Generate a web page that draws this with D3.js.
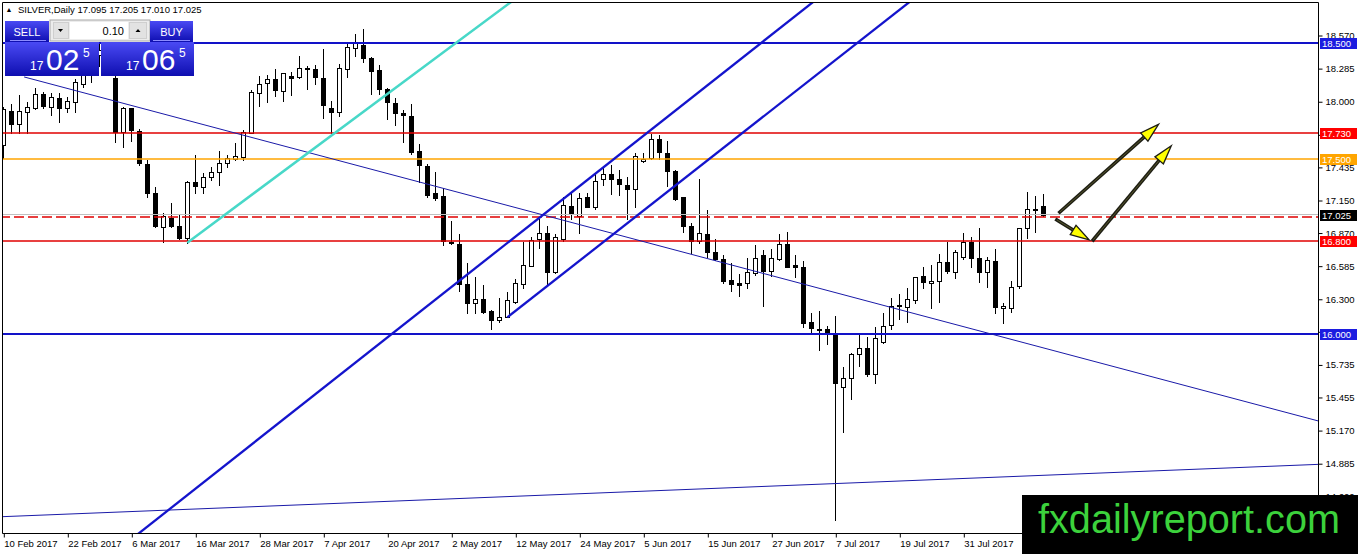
<!DOCTYPE html>
<html>
<head>
<meta charset="utf-8">
<title>SILVER Daily</title>
<script src="https://d3js.org/d3.v7.min.js"></script>
<style>
  body { margin: 0; background: #fff; }
  svg text { font-family: "Liberation Sans", Arial, sans-serif; }
</style>
</head>
<body>
<div id="vis"></div>
<script>
// daily bars, 10 Feb 2017 onwards (bar index = trading day)
var opens = [17.62,17.92,17.80,17.905,17.94,18.06,17.953,18.025,17.939,17.996,
  18.15,18.25,18.40,18.44,18.20,17.733,17.939,17.744,17.457,17.208,
  16.92,16.993,16.929,16.826,17.302,17.265,17.346,17.394,17.471,17.50,
  17.523,17.729,18.068,18.154,18.191,18.088,18.217,18.211,18.275,18.277,
  18.197,17.939,17.905,18.275,18.456,18.484,18.375,18.269,18.103,17.982,
  17.902,17.873,17.572,17.443,17.208,17.184,16.791,16.771,16.427,16.266,
  16.295,16.195,16.117,16.146,16.275,16.425,16.585,16.814,16.863,16.533,
  16.812,17.098,17.015,17.179,17.093,17.328,17.374,17.328,17.277,17.242,
  17.483,17.509,17.672,17.552,17.40,17.173,16.926,16.80,16.857,16.705,
  16.639,16.462,16.433,16.433,16.524,16.677,16.542,16.639,16.771,16.591,
  16.571,16.098,16.04,16.038,15.997,15.538,15.616,15.825,15.874,15.652,
  15.925,16.073,16.245,16.232,16.289,16.496,16.433,16.456,16.614,16.533,
  16.662,16.791,16.648,16.533,16.628,16.218,16.223,16.41,16.906,17.068,
  17.095];
var highs = [17.95,17.98,18.05,17.99,18.11,18.08,18.068,18.074,18.039,18.191,
  18.32,18.48,18.50,18.47,18.23,17.95,17.945,17.758,17.494,17.265,
  17.036,17.122,17.026,17.316,17.537,17.38,17.431,17.574,17.537,17.643,
  17.752,18.097,18.217,18.226,18.275,18.245,18.254,18.389,18.30,18.312,
  18.45,18.002,18.317,18.499,18.579,18.622,18.38,18.312,18.111,18.025,
  17.925,17.974,17.632,17.457,17.394,17.25,16.97,16.857,16.605,16.485,
  16.419,16.20,16.304,16.356,16.467,16.791,16.829,16.984,16.929,16.855,
  17.173,17.222,17.213,17.213,17.371,17.423,17.451,17.408,17.351,17.557,
  17.552,17.718,17.71,17.66,17.408,17.18,16.95,17.33,17.064,16.812,
  16.677,16.61,16.513,16.648,16.763,16.72,16.726,16.857,16.872,16.677,
  16.625,16.175,16.195,16.066,16.152,15.716,15.836,15.997,15.974,16.06,
  16.175,16.307,16.34,16.39,16.49,16.571,16.591,16.683,16.791,16.72,
  16.863,16.829,16.907,16.662,16.728,16.26,16.453,16.912,17.216,17.187,
  17.205];
var lows = [17.51,17.73,17.73,17.73,17.93,17.944,17.882,17.819,17.905,17.905,
  18.12,18.165,18.30,18.24,17.652,17.604,17.66,17.45,17.18,16.92,
  16.791,16.92,16.815,16.783,17.208,17.208,17.322,17.279,17.437,17.494,
  17.494,17.729,17.962,17.996,18.045,18.002,18.054,18.203,18.103,18.146,
  17.853,17.729,17.873,18.211,18.392,18.34,18.06,18.06,17.847,17.795,
  17.647,17.55,17.308,17.18,17.15,16.763,16.77,16.37,16.175,16.18,
  16.18,16.037,16.103,16.14,16.266,16.39,16.58,16.74,16.42,16.52,
  16.80,16.987,16.863,17.087,17.07,17.279,17.202,17.193,16.989,17.092,
  17.48,17.503,17.50,17.27,17.15,16.877,16.697,16.783,16.662,16.634,
  16.433,16.37,16.326,16.395,16.505,16.238,16.496,16.634,16.57,16.49,
  16.06,16.008,15.859,15.911,14.396,15.156,15.435,15.72,15.635,15.573,
  15.917,16.043,16.126,16.098,16.26,16.39,16.218,16.275,16.519,16.476,
  16.642,16.576,16.447,16.404,16.175,16.089,16.189,16.395,16.826,16.872,
  17.01];
var closes = [17.93,17.80,17.92,17.95,18.06,17.96,18.034,17.939,18.002,18.163,
  18.25,18.40,18.44,18.30,17.738,17.944,17.752,17.466,17.208,16.929,
  17.015,16.929,16.826,17.307,17.273,17.35,17.394,17.471,17.509,17.531,
  17.738,18.077,18.146,18.191,18.097,18.24,18.203,18.283,18.289,18.206,
  17.967,17.91,18.283,18.464,18.499,18.369,18.263,18.103,17.991,17.902,
  17.882,17.56,17.451,17.193,17.17,16.80,16.777,16.425,16.266,16.30,
  16.189,16.117,16.145,16.289,16.438,16.59,16.806,16.869,16.533,16.829,
  17.107,17.027,17.165,17.093,17.314,17.374,17.334,17.285,17.248,17.529,
  17.505,17.672,17.56,17.402,17.159,16.926,16.80,16.863,16.705,16.642,
  16.455,16.425,16.42,16.533,16.648,16.542,16.648,16.771,16.576,16.57,
  16.094,16.046,16.035,16.003,15.578,15.616,15.825,15.874,15.652,15.96,
  16.068,16.239,16.235,16.298,16.485,16.442,16.453,16.614,16.542,16.705,
  16.791,16.648,16.528,16.634,16.232,16.238,16.404,16.906,17.07,17.076,
  17.025];

var dateLabels = ["10 Feb 2017","22 Feb 2017","6 Mar 2017","16 Mar 2017","28 Mar 2017",
  "7 Apr 2017","20 Apr 2017","2 May 2017","12 May 2017","24 May 2017","5 Jun 2017",
  "15 Jun 2017","27 Jun 2017","7 Jul 2017","19 Jul 2017","31 Jul 2017"];
var dateBars = [0,8,16,24,32,40,48,56,64,72,80,88,96,104,112,120];

var priceTicks = [18.570,18.285,18.000,17.715,17.435,17.150,16.870,16.585,16.300,
  16.020,15.735,15.455,15.170,14.885,14.600];

// horizontal levels drawn on the chart
var levelPrices = [18.500, 17.730, 17.500, 17.000, 16.800, 16.000];
var levelKinds  = ["blue", "red", "orange", "dash", "red", "blue"];

// trend lines: [bar, price] anchors
var fallLine   = [[2.6, 18.209], [164.4, 15.248]];
var riseLine   = [[-0.05, 14.425], [164.4, 14.875]];
var channelLow = [[16.99, 14.284], [101.06, 18.845]];
var channelUp  = [[63, 16.14], [88.34, 17.508]];
var cyanLine   = [[23, 16.783], [59.6, 18.656]];

// arrows [from, to] as [bar, price]
var arrows = [
  [[131.9, 17.036], [144.4, 17.801]],
  [[131.5, 16.987], [135.75, 16.806]],
  [[136.1, 16.795], [146.0, 17.617]]
];

var symbol = "SILVER,Daily";
var bid = 17.025, ask = 17.065, lot = "0.10";

var width = 1358, height = 554;
var svg = d3.select("#vis").append("svg")
  .attr("width", width).attr("height", height);

var x = d3.scaleLinear().domain([0, 164.4]).range([3.3, 1318.5]);
var y = d3.scaleLinear().domain([18.57, 14.885]).range([35, 463.2]);

var defs = svg.append("defs");
defs.append("clipPath").attr("id", "plot")
  .append("rect").attr("x", 3).attr("y", 3).attr("width", 1315).attr("height", 530);
var grad = defs.append("linearGradient").attr("id", "btn")
  .attr("x1", 0).attr("y1", 0).attr("x2", 0).attr("y2", 1);
grad.append("stop").attr("offset", "0%").attr("stop-color", "#4a4af4");
grad.append("stop").attr("offset", "100%").attr("stop-color", "#0e0eb0");

svg.append("rect").attr("width", width).attr("height", height).attr("fill", "#fff");

var plot = svg.append("g").attr("clip-path", "url(#plot)");

// candles
var bars = d3.range(opens.length);
var cg = plot.append("g");
bars.forEach(function (i) {
  var cx = Math.round(x(i));
  var o = opens[i], c = closes[i];
  var top = Math.round(y(Math.max(o, c))), bot = Math.round(y(Math.min(o, c)));
  cg.append("line")
    .attr("x1", cx + 0.5).attr("x2", cx + 0.5)
    .attr("y1", Math.round(y(highs[i]))).attr("y2", Math.round(y(lows[i])) + 1)
    .attr("stroke", "#000").attr("stroke-width", 1);
  cg.append("rect")
    .attr("x", cx - 1.5).attr("y", top + 0.5)
    .attr("width", 4).attr("height", Math.max(bot - top, 0.01))
    .attr("fill", c >= o ? "#fff" : "#000")
    .attr("stroke", "#000").attr("stroke-width", 1);
});

// horizontal levels
var levelStyle = {
  blue:   { stroke: "#1212c8", w: 2.2, dash: null },
  red:    { stroke: "#e00000", w: 1.4, dash: null },
  orange: { stroke: "#ffa500", w: 1.4, dash: null },
  dash:   { stroke: "#e00000", w: 1.4, dash: "10,4" }
};
// bid line
plot.append("line").attr("x1", 0).attr("x2", 1318)
  .attr("y1", Math.round(y(bid)) - 0.5).attr("y2", Math.round(y(bid)) - 0.5)
  .attr("stroke", "#c0c0c0").attr("stroke-width", 1);
levelPrices.forEach(function (p, k) {
  var s = levelStyle[levelKinds[k]];
  var yy = s.w < 2 ? 2 * Math.round((y(p) - 1) / 2) + 1 : Math.round(y(p));
  plot.append("line").attr("x1", 0).attr("x2", 1318).attr("y1", yy).attr("y2", yy)
    .attr("stroke", s.stroke).attr("stroke-width", s.w)
    .attr("stroke-dasharray", s.dash);
});

// trend lines
function drawTrend(pts, ray, color, w) {
  var a = pts[0], b = pts[1];
  var slope = (b[1] - a[1]) / (b[0] - a[0]);
  var i0 = ray ? a[0] : -20, i1 = 220;
  plot.append("line")
    .attr("x1", x(i0)).attr("y1", y(a[1] + slope * (i0 - a[0])))
    .attr("x2", x(i1)).attr("y2", y(a[1] + slope * (i1 - a[0])))
    .attr("stroke", color).attr("stroke-width", w);
}
drawTrend(riseLine, false, "#1a1aa8", 1);
drawTrend(fallLine, true, "#1a1aa8", 1);
drawTrend(channelLow, false, "#1414cc", 2.3);
drawTrend(channelUp, true, "#1414cc", 2.3);
drawTrend(cyanLine, true, "#48d8c8", 2.5);

// arrows
arrows.forEach(function (ar) {
  var x1 = x(ar[0][0]), y1 = y(ar[0][1]), x2 = x(ar[1][0]), y2 = y(ar[1][1]);
  var dx = x2 - x1, dy = y2 - y1, L = Math.sqrt(dx * dx + dy * dy);
  var ux = dx / L, uy = dy / L, px = -uy, py = ux;
  var hl = 19, hw = 5.5;
  plot.append("line").attr("x1", x1).attr("y1", y1)
    .attr("x2", x2 - ux * hl * 0.8).attr("y2", y2 - uy * hl * 0.8)
    .attr("stroke", "#1e1e14").attr("stroke-width", 3.6);
  plot.append("line").attr("x1", x1 + ux * 2).attr("y1", y1 + uy * 2)
    .attr("x2", x2 - ux * hl).attr("y2", y2 - uy * hl)
    .attr("stroke", "#55552a").attr("stroke-width", 1);
  var bx = x2 - ux * hl, by = y2 - uy * hl;
  plot.append("path")
    .attr("d", "M" + x2 + "," + y2 + "L" + (bx + px * hw) + "," + (by + py * hw) +
      "L" + (bx - px * hw) + "," + (by - py * hw) + "Z")
    .attr("fill", "#ffff00").attr("stroke", "#1e1e14").attr("stroke-width", 1.3);
});

// frame
var frame = svg.append("g").attr("stroke", "#000").attr("stroke-width", 1);
frame.append("line").attr("x1", 2.5).attr("x2", 1318.5).attr("y1", 2.5).attr("y2", 2.5);
frame.append("line").attr("x1", 2.5).attr("x2", 2.5).attr("y1", 2.5).attr("y2", 533.5);
frame.append("line").attr("x1", 1318.5).attr("x2", 1318.5).attr("y1", 2.5).attr("y2", 533.5);
frame.append("line").attr("x1", 2.5).attr("x2", 1318.5).attr("y1", 533.5).attr("y2", 533.5);

// price axis
var ya = svg.append("g").attr("transform", "translate(1318.5,0.5)")
  .call(d3.axisRight(y).tickValues(priceTicks).tickSize(4).tickSizeOuter(0)
    .tickFormat(d3.format(".3f")));
ya.select(".domain").remove();
ya.selectAll("text").attr("font-size", "9.5px").attr("fill", "#000")
  .attr("font-family", "'Liberation Sans', Arial, sans-serif").attr("x", 7);

// date axis
var xa = svg.append("g").attr("transform", "translate(0.5,533.5)")
  .call(d3.axisBottom(x).tickValues(dateBars).tickSize(4)
    .tickFormat(function (d, i) { return dateLabels[i]; }));
xa.select(".domain").remove();
xa.selectAll("text").attr("font-size", "9.5px").attr("fill", "#000")
  .attr("font-family", "'Liberation Sans', Arial, sans-serif")
  .attr("text-anchor", "start").attr("x", 0).attr("dy", "0.71em");

// level labels on the price axis
var labelFill = { blue: "#1c1ce0", red: "#ff0000", orange: "#ffa500" };
function priceLabel(p, fill) {
  var yy = Math.round(y(p));
  svg.append("rect").attr("x", 1320).attr("y", yy - 5).attr("width", 37).attr("height", 11)
    .attr("fill", fill);
  svg.append("text").attr("x", 1322).attr("y", yy + 4).attr("font-size", "9.5px")
    .attr("fill", "#fff").text(p.toFixed(3));
}
levelPrices.forEach(function (p, k) {
  if (labelFill[levelKinds[k]]) priceLabel(p, labelFill[levelKinds[k]]);
});
priceLabel(bid, "#000");

// header line
var last = opens.length - 1;
svg.append("text").attr("x", 5.5).attr("y", 12).attr("font-size", "7px")
  .attr("font-family", "'DejaVu Sans', sans-serif").text("\u25B2");
svg.append("text").attr("x", 18).attr("y", 12.5).attr("font-size", "9.5px")
  .text(symbol + "  " + [opens[last], highs[last], lows[last], closes[last]]
    .map(function (v) { return v.toFixed(3); }).join(" "));

// one-click trading panel
var panel = svg.append("g");
panel.append("rect").attr("x", 50).attr("y", 20).attr("width", 100).attr("height", 21)
  .attr("fill", "#ececec").attr("stroke", "#a8a8a8");
panel.append("rect").attr("x", 70).attr("y", 22).attr("width", 58).attr("height", 17)
  .attr("fill", "#fff");
panel.append("rect").attr("x", 53.5).attr("y", 22.5).attr("width", 15).attr("height", 16)
  .attr("fill", "#e2e2e2").attr("stroke", "#cfcfcf");
panel.append("rect").attr("x", 129.5).attr("y", 22.5).attr("width", 17).attr("height", 16)
  .attr("fill", "#e2e2e2").attr("stroke", "#cfcfcf");
panel.append("path").attr("d", "M58,29 L63,29 L60.5,32 Z").attr("fill", "#000");
panel.append("path").attr("d", "M135.5,32 L140.5,32 L138,29 Z").attr("fill", "#000");
panel.append("text").attr("x", 124).attr("y", 35).attr("font-size", "11px")
  .attr("text-anchor", "end").text(lot);

panel.append("rect").attr("x", 5).attr("y", 21).attr("width", 44).attr("height", 21)
  .attr("fill", "url(#btn)");
panel.append("rect").attr("x", 150).attr("y", 21).attr("width", 43).attr("height", 21)
  .attr("fill", "url(#btn)");
panel.append("text").attr("x", 27).attr("y", 35.5).attr("font-size", "11px")
  .attr("fill", "#fff").attr("text-anchor", "middle").text("SELL");
panel.append("text").attr("x", 171.5).attr("y", 35.5).attr("font-size", "11px")
  .attr("fill", "#fff").attr("text-anchor", "middle").text("BUY");
panel.append("line").attr("x1", 10).attr("x2", 46).attr("y1", 40.5).attr("y2", 40.5)
  .attr("stroke", "#8c8cff");
panel.append("line").attr("x1", 153).attr("x2", 190).attr("y1", 40.5).attr("y2", 40.5)
  .attr("stroke", "#8c8cff");

function quoteBox(x0, w, price) {
  var s = price.toFixed(3);
  panel.append("rect").attr("x", x0).attr("y", 42).attr("width", w).attr("height", 34)
    .attr("fill", "url(#btn)");
  panel.append("text").attr("x", x0 + 25).attr("y", 69.5).attr("font-size", "12px")
    .attr("fill", "#fff").text(s.slice(0, 2));
  panel.append("text").attr("x", x0 + 41).attr("y", 69.5).attr("font-size", "30px")
    .attr("fill", "#fff").text(s.slice(3, 5));
  panel.append("text").attr("x", x0 + 78).attr("y", 57).attr("font-size", "12px")
    .attr("fill", "#fff").text(s.slice(5));
}
quoteBox(5, 94, bid);
quoteBox(101, 93, ask);

// watermark
svg.append("rect").attr("x", 1022).attr("y", 495).attr("width", 336).attr("height", 59)
  .attr("fill", "#000");
svg.append("text").attr("x", 1038).attr("y", 533).attr("font-size", "40px")
  .attr("fill", "#3cd23c").attr("textLength", 302).attr("lengthAdjust", "spacingAndGlyphs")
  .text("fxdailyreport.com");
</script>
</body>
</html>
